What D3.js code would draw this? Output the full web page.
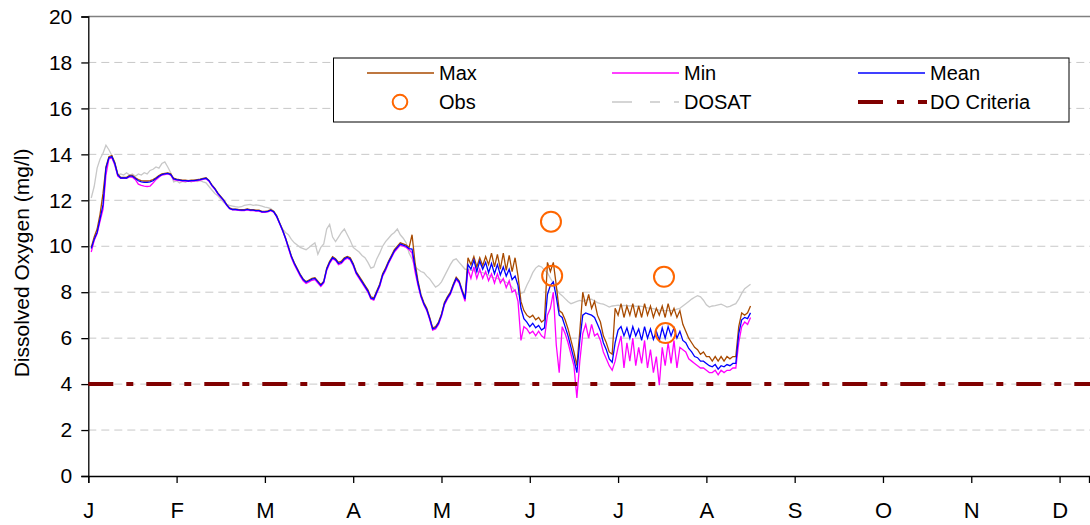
<!DOCTYPE html>
<html>
<head>
<meta charset="utf-8">
<script src="https://cdn.jsdelivr.net/npm/d3@7"></script>
<style>
  html, body { margin: 0; padding: 0; background: #fff; }
  svg { display: block; font-family: "Liberation Sans", Arial, sans-serif; }
</style>
</head>
<body>
<svg id="chart" width="1090" height="525"></svg>
<script>
// ---- DATA ----
const monthLabels = ["J","F","M","A","M","J","J","A","S","O","N","D"];
const monthTickDays = [0,30,60,90,120,150,180,210,240,270,300,330];
const yTicks = [0,2,4,6,8,10,12,14,16,18,20];
const firstDay = 1;           // day index of the first value in each daily series
const criteriaValue = 4;      // DO Criteria (mg/l)

const meanValues = [
9.9,10.3,10.6,11.2,11.8,13.4,13.85,13.9,13.6,13.1,
12.97,12.97,12.97,13.05,13.05,12.95,12.85,12.8,12.78,12.78,
12.8,12.85,12.95,13.05,13.12,13.15,13.17,13.12,12.93,12.9,
12.88,12.86,12.86,12.84,12.86,12.86,12.88,12.9,12.93,12.96,
12.85,12.65,12.5,12.3,12.15,12.0,11.8,11.65,11.6,11.6,
11.58,11.57,11.57,11.6,11.57,11.57,11.55,11.55,11.5,11.5,
11.52,11.57,11.5,11.3,11.0,10.7,10.35,9.95,9.55,9.25,
9.0,8.75,8.55,8.43,8.5,8.57,8.6,8.45,8.3,8.45,
9.0,9.3,9.5,9.42,9.25,9.3,9.45,9.52,9.45,9.2,
8.85,8.65,8.45,8.25,8.05,7.75,7.7,8.0,8.3,8.75,
9.0,9.3,9.55,9.8,9.95,10.1,10.05,10.0,9.9,9.88,
9.1,8.4,7.85,7.5,7.25,6.85,6.4,6.45,6.65,7.0,
7.5,7.75,7.95,8.3,8.6,8.45,8.05,7.7,
9.2,9.0,9.4,8.9,9.35,9.0,9.3,8.85,9.25,8.8,9.2,8.75,9.1,8.7,9.0,8.55,8.7,8.3,
7.3,6.85,6.7,6.5,6.65,6.45,6.55,6.35,6.45,
7.9,8.3,8.45,7.8,7.0,6.9,6.5,6.1,5.6,5.1,4.5,
5.9,7.0,7.1,7.05,7.0,6.9,6.6,6.3,5.8,5.5,5.1,4.95,
5.8,6.35,6.5,6.1,6.45,6.0,6.5,6.1,6.4,5.9,6.5,6.0,6.4,5.95,6.3,5.9,6.45,6.0,6.5,6.1,6.45,6.0,6.3,5.9,
5.8,5.55,5.4,5.2,5.15,5.0,5.0,4.9,4.8,4.75,4.85,4.65,4.8,4.75,4.85,4.8,4.9,4.9,
6.2,6.8,6.9,6.85,7.1];

const maxValues = [
9.95,10.4,10.75,11.4,12.3,13.45,13.9,13.95,13.65,13.15,
13.0,13.0,13.0,13.08,13.08,12.98,12.9,12.86,12.84,12.84,
12.86,12.9,12.98,13.08,13.15,13.17,13.19,13.15,12.96,12.92,
12.9,12.88,12.88,12.86,12.88,12.88,12.9,12.92,12.95,12.98,
12.87,12.67,12.52,12.32,12.17,12.02,11.82,11.67,11.62,11.62,
11.6,11.59,11.59,11.62,11.59,11.59,11.57,11.57,11.52,11.52,
11.54,11.59,11.52,11.32,11.02,10.72,10.37,9.98,9.58,9.28,
9.03,8.78,8.58,8.46,8.53,8.6,8.63,8.48,8.33,8.48,
9.05,9.35,9.55,9.46,9.3,9.35,9.5,9.56,9.5,9.25,
8.9,8.7,8.5,8.3,8.1,7.8,7.75,8.05,8.35,8.8,
9.05,9.35,9.6,9.85,10.0,10.15,10.1,10.05,9.95,10.5,
9.3,8.5,7.9,7.55,7.3,6.9,6.45,6.5,6.7,7.05,
7.55,7.8,8.0,8.35,8.65,8.5,8.1,7.75,
9.5,9.2,9.55,9.1,9.5,9.15,9.55,9.2,9.7,9.1,9.65,9.0,9.7,8.95,9.6,8.9,9.5,8.7,
7.6,7.2,7.0,6.9,7.0,6.8,6.9,6.7,6.8,
9.3,8.9,9.3,8.3,7.2,7.1,6.8,6.4,5.9,5.4,4.8,
6.3,8.0,7.4,7.9,7.3,7.6,7.0,6.7,6.1,5.8,5.4,5.3,
7.3,7.0,7.5,6.9,7.4,7.0,7.5,6.9,7.4,6.9,7.5,7.0,7.4,6.9,7.3,7.0,7.4,6.9,7.5,7.0,7.3,6.9,7.2,6.6,
6.3,6.0,5.8,5.6,5.5,5.3,5.4,5.2,5.2,5.0,5.2,5.0,5.2,5.0,5.2,5.1,5.2,5.2,
6.5,7.1,7.0,7.1,7.4];

const minValues = [
9.75,10.25,10.55,11.1,11.6,13.1,13.8,13.85,13.55,13.05,
12.95,12.95,12.95,13.02,13.0,12.9,12.7,12.65,12.62,12.6,
12.62,12.75,12.9,13.0,13.1,13.12,13.15,13.1,12.9,12.88,
12.86,12.84,12.84,12.82,12.84,12.84,12.86,12.88,12.91,12.94,
12.83,12.63,12.48,12.28,12.13,11.98,11.78,11.63,11.58,11.58,
11.56,11.55,11.55,11.58,11.55,11.55,11.53,11.53,11.48,11.48,
11.5,11.55,11.48,11.28,10.98,10.68,10.33,9.9,9.5,9.2,
8.95,8.7,8.5,8.38,8.45,8.52,8.55,8.4,8.25,8.4,
8.95,9.25,9.45,9.38,9.2,9.25,9.4,9.48,9.4,9.15,
8.8,8.6,8.4,8.2,8.0,7.7,7.65,7.95,8.25,8.7,
8.95,9.25,9.5,9.75,9.9,10.05,10.0,9.95,9.85,9.7,
8.9,8.3,7.8,7.45,7.2,6.8,6.35,6.4,6.6,6.95,
7.45,7.7,7.9,8.25,8.55,8.4,8.0,7.6,
9.0,8.6,9.1,8.6,9.0,8.6,8.9,8.5,8.8,8.4,8.8,8.4,8.6,8.2,8.5,8.0,8.1,7.6,
5.9,6.5,6.4,6.2,6.3,6.1,6.3,6.1,6.0,
7.0,7.3,8.0,5.7,4.5,6.5,6.2,5.8,5.3,4.8,3.4,
5.0,6.2,6.6,6.0,6.6,6.1,6.2,5.9,5.4,5.1,4.8,4.6,
5.0,5.6,6.1,4.7,5.8,5.0,6.0,4.8,5.6,4.9,5.9,4.7,5.5,4.5,5.2,3.95,5.6,4.8,5.8,4.9,5.9,4.7,5.6,5.5,
5.4,5.1,5.0,4.9,4.8,4.7,4.7,4.6,4.5,4.5,4.6,4.4,4.6,4.5,4.6,4.6,4.7,4.7,
5.8,6.5,6.7,6.6,6.9];

const dosatValues = [
12.1,12.6,13.4,13.8,14.05,14.4,14.2,13.95,13.5,13.1,
13.15,13.1,13.2,13.1,13.15,13.05,13.15,13.1,13.2,13.15,
13.3,13.35,13.45,13.4,13.6,13.67,13.45,13.2,12.8,12.85,
12.75,12.82,12.78,12.86,12.8,12.88,12.82,12.86,12.8,12.76,
12.6,12.45,12.3,12.2,12.05,11.9,11.82,11.78,11.75,11.72,
11.7,11.72,11.78,11.8,11.82,11.78,11.8,11.78,11.75,11.7,
11.68,11.64,11.5,11.35,11.0,10.75,10.6,10.5,10.3,10.15,
10.05,9.95,9.9,9.85,9.95,10.05,10.15,9.65,9.95,10.1,
10.75,10.95,10.4,10.2,10.4,10.6,10.75,10.5,10.25,9.95,
9.85,9.75,9.6,9.5,9.3,9.05,9.1,9.45,9.7,10.0,
10.2,10.35,10.5,10.6,10.75,10.5,10.35,10.15,9.7,9.45,
9.1,9.0,8.9,8.85,8.7,8.58,8.4,8.22,8.3,8.45,
8.7,8.95,9.2,9.4,9.45,9.3,9.15,9.0,9.0,8.95,
8.94,8.9,8.87,8.85,8.8,8.75,8.65,8.62,8.6,8.55,
8.5,8.43,8.35,8.22,8.05,7.9,7.95,8.0,8.3,8.55,
8.85,9.05,9.15,9.1,8.95,8.85,8.6,8.4,8.15,7.95,
7.85,7.72,7.6,7.5,7.55,7.6,7.64,7.6,7.65,7.68,
7.7,7.62,7.55,7.5,7.48,7.42,7.35,7.4,7.42,7.44,
7.4,7.43,7.42,7.4,7.42,7.38,7.4,7.38,7.35,7.32,
7.3,7.28,7.25,7.22,7.2,7.2,7.2,7.2,7.22,7.26,
7.3,7.4,7.5,7.6,7.7,7.78,7.85,7.8,7.65,7.45,
7.35,7.4,7.42,7.45,7.48,7.42,7.35,7.38,7.45,7.5,
7.7,7.95,8.15,8.25,8.35];

const obsDays = [157.2, 157.6, 195.6, 196.1];
const obsValues = [11.07, 8.72, 8.67, 6.22];

// ---- CHART ----
const svg = d3.select("#chart");
const pLeft = 88.3, pRight = 1089, pTop = 16.5, pBottom = 476;
const x = d3.scaleLinear().domain([0, 340]).range([pLeft, pRight]);
const y = d3.scaleLinear().domain([0, 20]).range([pBottom, pTop]);

// gridlines
svg.append("g").selectAll("line")
  .data(yTicks.filter(v => v > 0 && v < 20))
  .join("line")
  .attr("x1", pLeft).attr("x2", 1090)
  .attr("y1", d => y(d)).attr("y2", d => y(d))
  .attr("stroke", "#c8c8c8").attr("stroke-width", 1)
  .attr("stroke-dasharray", "8,5");

// top border
svg.append("line").attr("x1", pLeft).attr("x2", 1090)
  .attr("y1", y(20)).attr("y2", y(20))
  .attr("stroke", "#808080").attr("stroke-width", 1.3);

// y axis
const yAxis = d3.axisLeft(y).tickValues(yTicks).tickSize(7).tickPadding(9).tickFormat(d3.format("d"));
const gy = svg.append("g").attr("transform", `translate(${pLeft},0)`).call(yAxis);
gy.select(".domain").attr("stroke", "#000").attr("stroke-width", 1.3);
gy.selectAll(".tick line").attr("stroke", "#000").attr("stroke-width", 1.3);
gy.selectAll(".tick text").attr("font-family", "Liberation Sans, Arial, sans-serif")
  .attr("font-size", 21).attr("fill", "#000");

// x axis
const xAxis = d3.axisBottom(x).tickValues(monthTickDays).tickSize(7).tickPadding(19)
  .tickFormat((d, i) => monthLabels[i]);
const gx = svg.append("g").attr("transform", `translate(0,${pBottom})`).call(xAxis);
gx.select(".domain").attr("stroke", "#000").attr("stroke-width", 1.3);
gx.selectAll(".tick line").attr("stroke", "#000").attr("stroke-width", 1.3);
gx.selectAll(".tick text").attr("font-family", "Liberation Sans, Arial, sans-serif")
  .attr("font-size", 22).attr("fill", "#000");

// axis title
svg.append("text")
  .attr("transform", `translate(29,263) rotate(-90)`)
  .attr("text-anchor", "middle")
  .attr("font-size", 21).attr("fill", "#000")
  .text("Dissolved Oxygen (mg/l)");

// series lines
const lineGen = d3.line().x((d, i) => x(firstDay + i)).y(d => y(d));
const plot = svg.append("g");

plot.append("path").datum(dosatValues).attr("d", lineGen)
  .attr("fill", "none").attr("stroke", "#c8c8c8").attr("stroke-width", 1.3);

plot.append("path").datum(maxValues).attr("d", lineGen)
  .attr("fill", "none").attr("stroke", "#a84a00").attr("stroke-width", 1.3);
plot.append("path").datum(minValues).attr("d", lineGen)
  .attr("fill", "none").attr("stroke", "#ff00ff").attr("stroke-width", 1.3);
plot.append("path").datum(meanValues).attr("d", lineGen)
  .attr("fill", "none").attr("stroke", "#0000ff").attr("stroke-width", 1.3);

// DO criteria
plot.append("line")
  .attr("x1", x(0)).attr("x2", 1090)
  .attr("y1", y(criteriaValue)).attr("y2", y(criteriaValue))
  .attr("stroke", "#800000").attr("stroke-width", 4)
  .attr("stroke-dasharray", "25,13,7,13");

// obs
plot.selectAll("circle.obs").data(obsDays).join("circle")
  .attr("class", "obs")
  .attr("cx", d => x(d)).attr("cy", (d, i) => y(obsValues[i]))
  .attr("r", 10).attr("fill", "none").attr("stroke", "#ff6600").attr("stroke-width", 2);

// legend
const lg = svg.append("g");
lg.append("rect").attr("x", 333.5).attr("y", 58).attr("width", 735.5).attr("height", 64)
  .attr("fill", "#fff").attr("stroke", "#000").attr("stroke-width", 1);
const row1 = 73, row2 = 102;
const legendItems = [
  {label: "Max", x0: 367, y: row1, type: "line", color: "#a84a00"},
  {label: "Min", x0: 612, y: row1, type: "line", color: "#ff00ff"},
  {label: "Mean", x0: 858, y: row1, type: "line", color: "#0000ff"},
  {label: "Obs", x0: 367, y: row2, type: "circle", color: "#ff6600"},
  {label: "DOSAT", x0: 612, y: row2, type: "dash", color: "#c8c8c8"},
  {label: "DO Criteria", x0: 858, y: row2, type: "crit", color: "#800000"}
];
legendItems.forEach(it => {
  if (it.type === "line") {
    lg.append("line").attr("x1", it.x0).attr("x2", it.x0 + 67).attr("y1", it.y).attr("y2", it.y)
      .attr("stroke", it.color).attr("stroke-width", 1.3);
  } else if (it.type === "circle") {
    lg.append("circle").attr("cx", it.x0 + 33).attr("cy", it.y).attr("r", 7.3)
      .attr("fill", "none").attr("stroke", it.color).attr("stroke-width", 2);
  } else if (it.type === "dash") {
    lg.append("line").attr("x1", it.x0).attr("x2", it.x0 + 67).attr("y1", it.y).attr("y2", it.y)
      .attr("stroke", it.color).attr("stroke-width", 1.3).attr("stroke-dasharray", "20,18,10,14");
  } else {
    lg.append("line").attr("x1", it.x0).attr("x2", it.x0 + 69).attr("y1", it.y).attr("y2", it.y)
      .attr("stroke", it.color).attr("stroke-width", 4).attr("stroke-dasharray", "25,14,7,14");
  }
  lg.append("text").attr("x", it.x0 + 72).attr("y", it.y).attr("dy", "0.35em")
    .attr("font-size", 20).attr("fill", "#000").text(it.label);
});
</script>
</body>
</html>
